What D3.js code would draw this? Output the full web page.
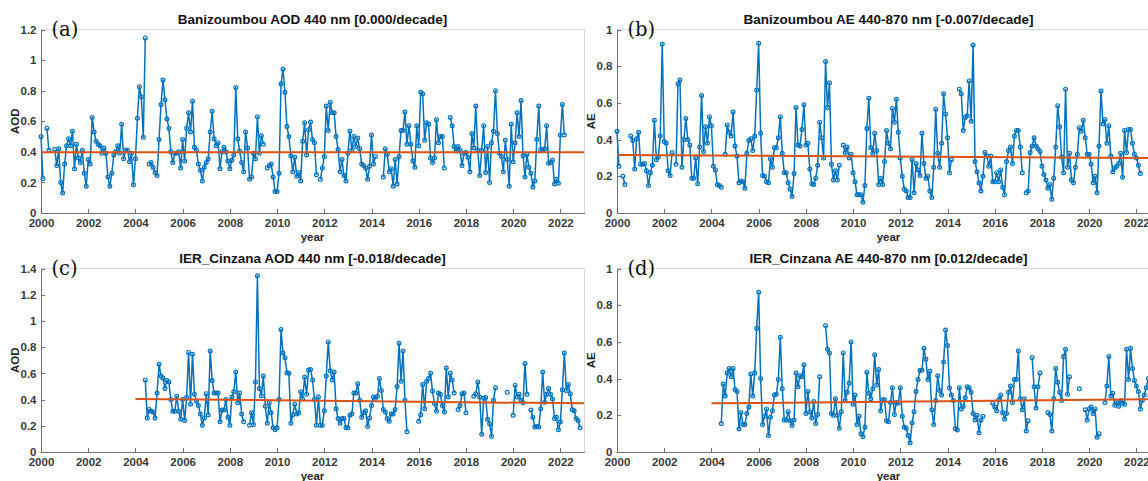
<!DOCTYPE html>
<html>
<head>
<meta charset="utf-8">
<script src="https://cdn.jsdelivr.net/npm/d3@7"></script>
<style>
  body { margin: 0; background: #fff; }
  svg { display: block; font-family: "Liberation Sans", Arial, Helvetica, sans-serif; }
</style>
</head>
<body>
<svg id="chart" width="1148" height="481"></svg>
<script>
// tick values
const xTicks = [2000, 2002, 2004, 2006, 2008, 2010, 2012, 2014, 2016, 2018, 2020, 2022];
const yTicksAODa = [0, 0.2, 0.4, 0.6, 0.8, 1, 1.2];
const yTicksAODc = [0, 0.2, 0.4, 0.6, 0.8, 1, 1.2, 1.4];
const yTicksAE = [0, 0.2, 0.4, 0.6, 0.8, 1];

// Banizoumbou monthly means, from Jan 2000
const banAOD = [
  0.50, 0.225, null, 0.555, 0.41, null, null, 0.415, 0.31, 0.42, 0.20, 0.13,
  0.32, 0.44, 0.485, 0.44, 0.535, 0.29, 0.45, 0.36, 0.33, 0.41, 0.26, 0.175,
  0.35, 0.32, 0.625, 0.53, 0.47, 0.45, 0.44, 0.39, 0.425, 0.39, 0.235, 0.175,
  0.26, 0.38, 0.40, 0.44, 0.39, 0.58, 0.355, 0.41, 0.41, 0.335, 0.39, 0.185,
  0.355, 0.62, 0.825, 0.76, 0.495, 1.145, null, 0.32, 0.33, 0.30, 0.265, 0.245,
  0.48, 0.71, 0.87, 0.74, 0.615, 0.555, 0.40, 0.33, 0.39, 0.39, 0.40, 0.295,
  0.48, 0.34, 0.555, 0.655, 0.53, 0.73, 0.43, 0.41, 0.32, 0.28, 0.21, 0.30,
  0.33, 0.355, 0.53, 0.665, 0.485, 0.44, 0.46, 0.29, 0.40, 0.43, 0.40, 0.34,
  0.29, 0.345, 0.38, 0.82, 0.485, 0.405, 0.33, 0.27, 0.53, 0.425, 0.22, 0.235,
  0.39, 0.355, 0.63, 0.39, 0.505, 0.45, null, 0.295, 0.31, 0.32, 0.235, 0.14,
  0.14, 0.26, 0.845, 0.94, 0.79, 0.565, 0.50, 0.375, 0.27, 0.365, 0.24, 0.265,
  0.21, 0.47, 0.59, 0.38, 0.545, 0.595, 0.48, 0.46, 0.25, null, 0.22, 0.295,
  0.37, 0.70, 0.54, 0.725, 0.655, 0.655, 0.50, 0.415, 0.27, 0.35, 0.245, 0.21,
  0.39, 0.535, 0.41, 0.50, 0.435, 0.49, 0.42, 0.32, 0.31, 0.295, 0.22, 0.305,
  0.51, 0.32, 0.37, null, null, null, 0.235, 0.42, 0.385, 0.27, 0.29, 0.175,
  0.35, 0.19, 0.37, 0.54, 0.54, 0.66, 0.45, 0.57, 0.45, 0.34, 0.30, 0.57,
  0.44, 0.79, 0.78, 0.475, 0.59, 0.58, 0.36, 0.33, 0.36, 0.61, 0.46, 0.50,
  0.50, 0.295, null, null, 0.625, 0.57, 0.435, 0.405, 0.435, 0.41, 0.31, 0.39,
  0.395, 0.365, 0.27, 0.52, 0.425, 0.70, 0.41, 0.245, 0.41, 0.57, 0.265, 0.435,
  0.20, 0.46, 0.535, 0.80, 0.52, 0.39, 0.37, 0.27, 0.475, 0.35, 0.175, 0.58,
  0.335, 0.46, 0.655, 0.50, 0.735, 0.375, 0.235, 0.385, 0.30, 0.26, 0.17, 0.21,
  0.48, 0.70, 0.415, 0.41, 0.42, 0.57, 0.325, 0.33, 0.345, 0.19, 0.22, 0.195,
  0.51, 0.71, 0.51
];

const banAE = [
  0.445, 0.255, null, 0.20, 0.155, null, null, 0.42, 0.395, 0.24, 0.405, 0.44,
  0.265, 0.265, 0.27, 0.23, 0.15, 0.22, 0.26, 0.505, 0.29, 0.305, 0.42, 0.92,
  0.39, 0.38, 0.23, 0.205, 0.33, null, 0.265, 0.705, 0.725, 0.25, 0.40, 0.515,
  0.40, 0.37, 0.19, 0.19, 0.30, 0.16, 0.36, 0.64, 0.335, 0.47, 0.38, 0.525,
  0.475, 0.255, 0.235, 0.155, 0.15, 0.14, null, 0.32, 0.48, 0.44, 0.42, 0.55,
  0.365, 0.31, 0.165, 0.175, 0.17, 0.135, 0.325, 0.395, 0.405, 0.34, 0.42, 0.67,
  0.925, 0.435, 0.205, 0.20, 0.17, 0.165, 0.295, 0.25, 0.355, 0.355, 0.41, 0.525,
  0.325, 0.22, 0.22, 0.165, 0.13, 0.09, 0.215, 0.575, 0.37, 0.365, 0.455, 0.59,
  0.37, 0.38, 0.24, 0.16, 0.155, 0.19, 0.26, 0.495, 0.41, 0.30, 0.825, 0.575,
  0.71, 0.265, 0.18, 0.23, 0.18, 0.26, null, 0.37, 0.33, 0.36, 0.30, 0.32,
  0.22, 0.17, 0.10, 0.10, 0.10, 0.058, 0.15, 0.46, 0.625, 0.355, 0.325, 0.435,
  0.34, 0.155, 0.19, 0.155, 0.28, 0.45, 0.38, 0.35, 0.57, 0.495, 0.62, 0.44,
  0.30, 0.20, 0.13, 0.12, 0.085, 0.085, 0.29, 0.11, 0.27, 0.235, 0.205, 0.435,
  0.27, 0.19, 0.20, 0.12, 0.085, 0.25, 0.565, 0.325, 0.25, 0.38, 0.65, 0.54,
  0.41, 0.22, 0.29, null, null, null, 0.675, 0.65, 0.45, 0.52, 0.53, 0.72,
  0.50, 0.915, 0.28, 0.225, 0.165, 0.12, 0.20, 0.33, 0.31, 0.255, 0.31, 0.17,
  0.17, 0.22, 0.17, 0.235, 0.14, 0.10, 0.28, 0.34, 0.36, 0.27, 0.42, 0.45,
  0.45, 0.36, 0.22, null, 0.11, 0.12, 0.33, 0.365, 0.41, 0.365, 0.35, 0.335,
  0.255, 0.21, 0.18, 0.135, 0.155, 0.075, 0.19, 0.36, 0.585, 0.47, 0.305, 0.22,
  0.675, 0.25, 0.325, 0.18, 0.165, 0.25, 0.32, 0.465, 0.445, 0.505, 0.41, 0.32,
  0.32, 0.265, 0.165, 0.20, 0.11, 0.365, 0.665, 0.485, 0.51, 0.38, 0.475, 0.31,
  0.225, 0.245, 0.255, 0.27, 0.325, 0.195, 0.45, 0.33, 0.455, 0.455, 0.38, 0.32,
  0.30, 0.26, 0.215
];

// IER_Cinzana monthly means, from Jun 2004
const cinAOD = [
  0.55, 0.26, 0.325, 0.31, 0.305, 0.26, 0.45,
  0.67, 0.58, 0.565, 0.485, 0.545, 0.535, 0.40, 0.31, 0.31, 0.425, 0.31, 0.25,
  0.40, 0.24, 0.415, 0.76, 0.365, 0.745, 0.44, 0.39, 0.355, 0.29, 0.205, 0.26,
  0.445, 0.285, 0.77, 0.545, 0.45, 0.45, 0.45, 0.23, 0.32, 0.32, 0.40, 0.265,
  0.205, 0.42, 0.46, 0.61, 0.375, 0.45, 0.29, 0.23, null, null, 0.205, 0.30,
  0.21, 0.535, 1.345, 0.485, 0.43, 0.58, 0.35, 0.22, 0.375, 0.30, 0.185, 0.17,
  0.185, 0.40, 0.935, 0.755, 0.72, 0.605, 0.60, 0.22, 0.285, 0.365, 0.29, 0.30,
  0.46, 0.405, 0.57, 0.44, 0.625, 0.63, 0.55, 0.40, 0.205, 0.42, 0.205, 0.205,
  0.315, 0.58, 0.84, 0.62, 0.55, 0.61, 0.33, 0.255, 0.22, 0.255, 0.255, 0.185,
  0.185, 0.28, 0.29, 0.45, 0.45, 0.52, 0.395, 0.265, 0.30, 0.315, 0.195, 0.26,
  0.355, 0.42, 0.41, 0.425, 0.56, 0.47, 0.325, 0.305, 0.255, 0.235, 0.29, 0.29,
  0.325, 0.50, 0.83, 0.54, 0.77, 0.395, 0.155, null, null, null, null, null,
  0.235, 0.285, 0.515, 0.33, 0.54, 0.56, 0.60, 0.465, 0.37, 0.31, 0.45, 0.44,
  0.355, 0.305, 0.64, 0.42, 0.60, 0.55, 0.45, null, 0.325, 0.355, 0.445, 0.45,
  0.30, null, null, null, 0.425, 0.445, 0.535, 0.42, 0.135, 0.41, 0.415, 0.25,
  0.215, 0.12, 0.395, 0.49, null, null, null, null, null, 0.455, null, null,
  0.28, 0.51, 0.42, 0.44, 0.395, 0.375, 0.675, 0.44, null, 0.32, 0.265, 0.19,
  0.195, 0.19, 0.33, 0.61, 0.38, 0.44, 0.485, 0.44, 0.405, 0.255, 0.265, 0.17,
  0.23, 0.475, 0.755, 0.47, 0.515, 0.445, 0.325, 0.315, 0.255, 0.24, 0.185
];

const cinAE = [
  0.155, 0.37, 0.305, 0.43, 0.455, 0.41, 0.455,
  0.34, 0.33, 0.125, 0.215, 0.15, 0.15, 0.21, 0.245, 0.425, 0.305, 0.43, 0.675,
  0.87, 0.40, 0.15, 0.195, 0.235, 0.09, 0.19, 0.225, 0.31, 0.315, 0.395, 0.625,
  0.345, 0.175, 0.175, 0.22, 0.17, 0.145, 0.175, 0.43, 0.355, 0.415, 0.41, 0.475,
  0.21, 0.33, 0.22, 0.185, 0.275, 0.155, 0.205, 0.41, null, null, 0.69, 0.56,
  0.54, 0.21, 0.20, 0.29, 0.20, 0.13, 0.22, 0.54, 0.28, 0.325, 0.375, 0.60,
  0.26, 0.31, 0.15, 0.195, 0.10, 0.085, 0.135, 0.435, 0.32, 0.29, 0.345, 0.53,
  0.365, 0.45, 0.225, 0.285, 0.285, 0.17, 0.165, 0.27, 0.35, 0.205, 0.27, 0.265,
  0.35, 0.195, 0.135, 0.13, 0.09, 0.05, 0.16, 0.22, 0.33, 0.395, 0.445, 0.445,
  0.565, 0.505, 0.395, 0.44, 0.23, 0.15, 0.28, 0.415, 0.335, 0.31, 0.49, 0.665,
  0.58, 0.35, 0.31, 0.28, 0.127, 0.12, 0.35, 0.235, 0.25, 0.295, 0.355, 0.35,
  0.325, 0.21, 0.175, 0.20, 0.105, 0.175, 0.195, null, null, null, null, 0.265,
  0.245, 0.225, 0.285, 0.31, 0.215, 0.18, 0.21, 0.325, 0.36, 0.27, 0.395, 0.395,
  0.55, 0.29, 0.23, 0.29, 0.115, 0.17, null, 0.515, 0.355, 0.24, 0.355, 0.43,
  null, null, null, 0.215, 0.205, 0.115, 0.29, 0.455, 0.38, 0.325, 0.28, 0.52,
  0.56, 0.315, 0.41, null, null, null, null, 0.345, null, null, 0.23, 0.175,
  0.235, 0.245, 0.21, 0.235, 0.08, 0.10, null, null, 0.27, 0.36, 0.52, 0.305,
  0.32, 0.255, 0.275, 0.25, 0.28, 0.265, 0.26, 0.56, 0.395, 0.565, 0.455, 0.39,
  0.36, 0.33, 0.235, 0.28, 0.31, 0.35, 0.40, 0.30, 0.27, 0.30, 0.25
];

// linear trends: [start year, value, end year, value]
const trendBanAOD = [2000, 0.397, 2023, 0.397];
const trendBanAE = [2000, 0.316, 2023, 0.300];
const trendCinAOD = [2004, 0.405, 2023, 0.371];
const trendCinAE = [2004, 0.265, 2023, 0.288];

const panels = [
  { tag: "(a)", title: "Banizoumbou AOD 440 nm [0.000/decade]", ylab: "AOD", ymax: 1.2, yt: yTicksAODa,
    vals: banAOD, start: [2000, 1], trend: trendBanAOD, col: 0, row: 0 },
  { tag: "(b)", title: "Banizoumbou AE 440-870 nm [-0.007/decade]", ylab: "AE", ymax: 1, yt: yTicksAE,
    vals: banAE, start: [2000, 1], trend: trendBanAE, col: 1, row: 0 },
  { tag: "(c)", title: "IER_Cinzana AOD 440 nm [-0.018/decade]", ylab: "AOD", ymax: 1.4, yt: yTicksAODc,
    vals: cinAOD, start: [2004, 6], trend: trendCinAOD, col: 0, row: 1 },
  { tag: "(d)", title: "IER_Cinzana AE 440-870 nm [0.012/decade]", ylab: "AE", ymax: 1, yt: yTicksAE,
    vals: cinAE, start: [2004, 6], trend: trendCinAE, col: 1, row: 1 }
];

const W = 543, H = 183.5;
const lefts = [41, 617], tops = [29.5, 268.5];
const blue = "#0072BD", orange = "#D95319";

const svg = d3.select("#chart");

panels.forEach(p => {
  const g = svg.append("g")
    .attr("transform", `translate(${lefts[p.col]},${tops[p.row]})`);

  const x = d3.scaleLinear().domain([2000, 2023]).range([0, W]);
  const y = d3.scaleLinear().domain([0, p.ymax]).range([H, 0]);

  const pts = p.vals.map((v, i) => ({ t: p.start[0] + (p.start[1] - 1 + i) / 12, v: v }));

  // light box (top/right)
  g.append("path")
    .attr("d", `M0,0H${W}V${H}`)
    .attr("fill", "none")
    .attr("stroke", "#dadada")
    .attr("stroke-width", 1)
    .attr("shape-rendering", "crispEdges");

  // axes
  const xAxis = g.append("g")
    .attr("transform", `translate(0,${H})`)
    .call(d3.axisBottom(x).tickValues(xTicks).tickFormat(d3.format("d"))
      .tickSize(-4).tickSizeOuter(0).tickPadding(6));

  const yAxis = g.append("g")
    .call(d3.axisLeft(y).tickValues(p.yt).tickFormat(d3.format(".1~f"))
      .tickSize(-4).tickSizeOuter(0).tickPadding(4.5));

  [xAxis, yAxis].forEach(a => {
    a.select(".domain").attr("stroke", "#707070").attr("shape-rendering", "crispEdges");
    a.selectAll(".tick line").attr("stroke", "#707070").attr("shape-rendering", "crispEdges");
    a.selectAll(".tick text")
      .attr("fill", "#3a3a3a")
      .style("font-size", "11.5px")
      .style("font-weight", "bold")
      .style("font-family", "'Liberation Sans', Arial, sans-serif");
  });

  // data line + open circle markers
  const line = d3.line()
    .defined(d => d.v !== null)
    .x(d => x(d.t))
    .y(d => y(d.v));

  g.append("path")
    .datum(pts)
    .attr("d", line)
    .attr("fill", "none")
    .attr("stroke", blue)
    .attr("stroke-width", 1.5)
    .attr("stroke-linejoin", "round");

  g.selectAll(".mk")
    .data(pts.filter(d => d.v !== null))
    .enter()
    .append("circle")
    .attr("class", "mk")
    .attr("cx", d => x(d.t))
    .attr("cy", d => y(d.v))
    .attr("r", 1.9)
    .attr("fill", "none")
    .attr("stroke", blue)
    .attr("stroke-width", 1.2);

  // trend
  g.append("line")
    .attr("x1", x(p.trend[0])).attr("y1", y(p.trend[1]))
    .attr("x2", x(p.trend[2])).attr("y2", y(p.trend[3]))
    .attr("stroke", orange)
    .attr("stroke-width", 2);

  // texts
  g.append("text")
    .attr("x", W / 2).attr("y", -5.3)
    .attr("text-anchor", "middle")
    .style("font-size", "13.5px")
    .style("font-weight", "bold")
    .attr("fill", "#111")
    .text(p.title);

  g.append("text")
    .attr("x", 10.5).attr("y", 6.5)
    .style("font-family", "'DejaVu Serif', 'Liberation Serif', serif")
    .style("font-size", "19.5px")
    .attr("fill", "#111")
    .text(p.tag);

  g.append("text")
    .attr("x", W / 2).attr("y", H + 28)
    .attr("text-anchor", "middle")
    .style("font-size", "11.5px")
    .style("font-weight", "bold")
    .attr("fill", "#262626")
    .text("year");

  g.append("text")
    .attr("transform", `translate(-22.5,${H / 2}) rotate(-90)`)
    .attr("text-anchor", "middle")
    .style("font-size", "11.5px")
    .style("font-weight", "bold")
    .attr("fill", "#262626")
    .text(p.ylab);
});
</script>
</body>
</html>
